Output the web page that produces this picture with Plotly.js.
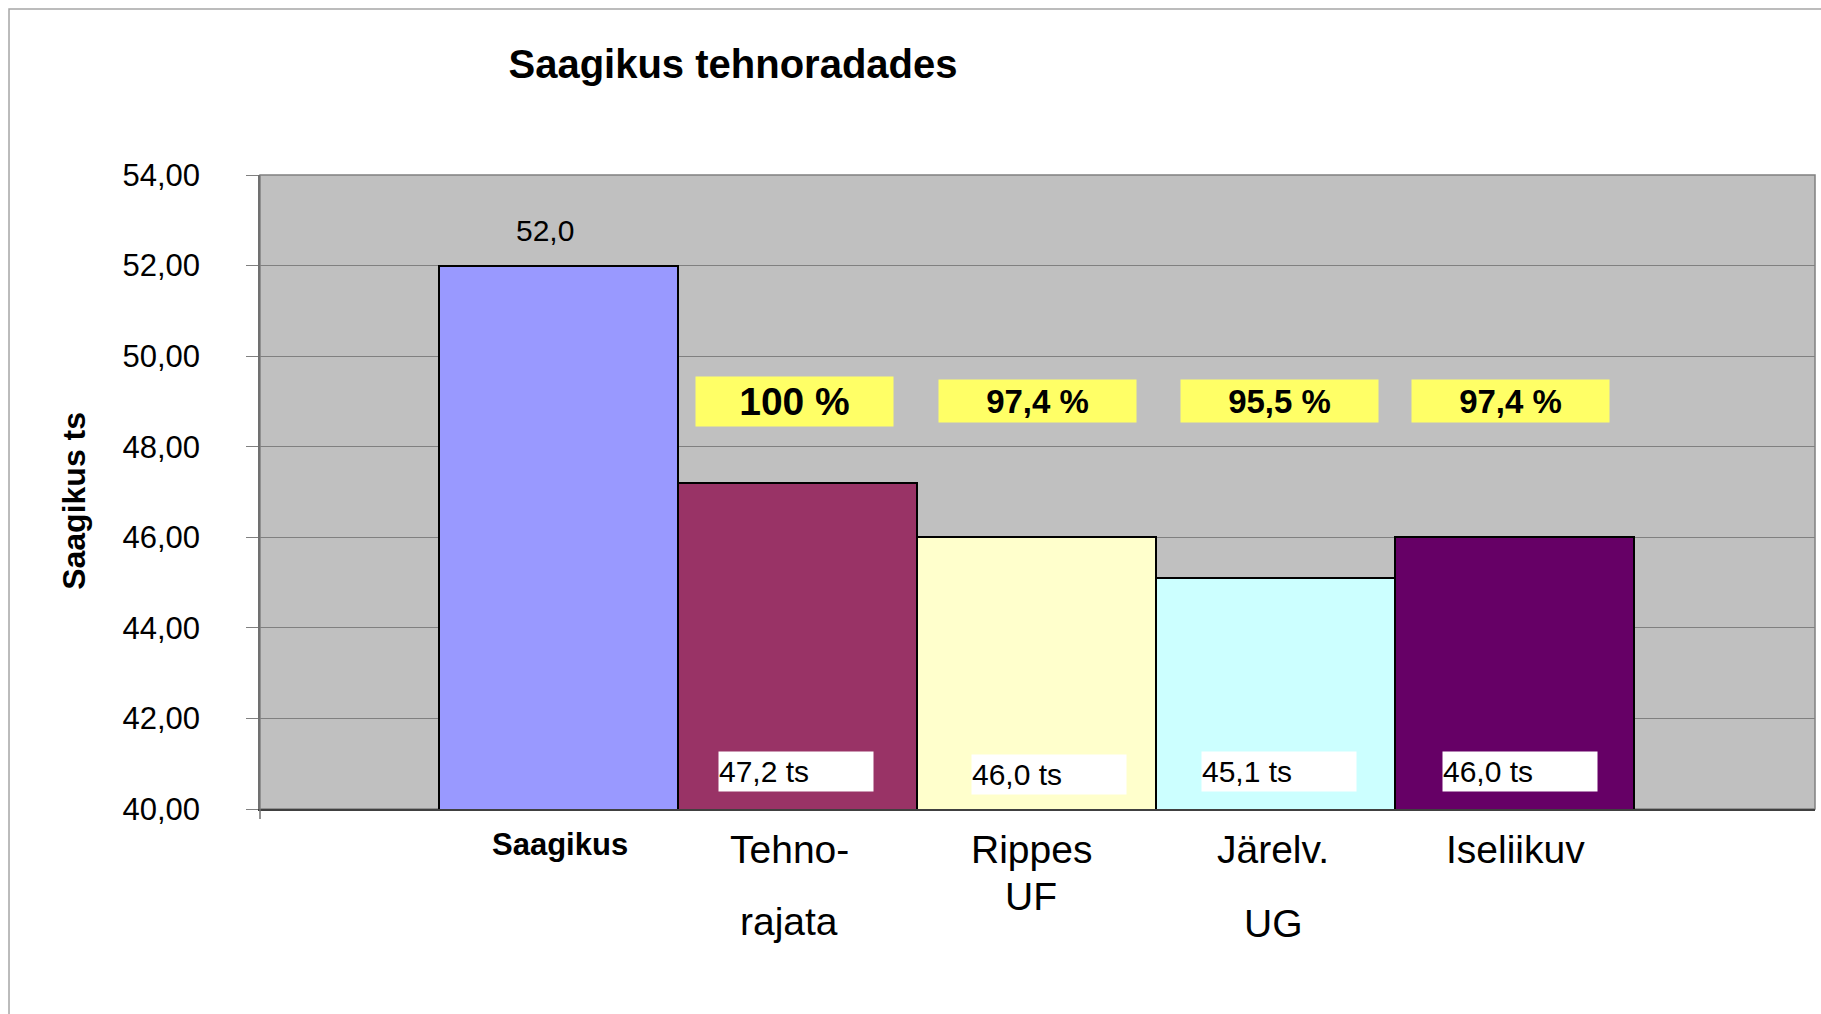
<!DOCTYPE html>
<html><head><meta charset="utf-8">
<script src="https://cdn.plot.ly/plotly-3.0.1.min.js"></script>
<style>html,body{margin:0;padding:0;background:#fff;}</style>
</head><body>
<div id="chart" style="width:1821px;height:1014px;"></div>
<script>
// ---- data ----
const chartTitle = "Saagikus tehnoradades";
const yAxisTitle = "Saagikus ts";
const categories = ["Saagikus", "Tehno-<br>rajata", "Rippes<br>UF", "Järelv.<br>UG", "Iseliikuv"];
const yieldValues = [52.0, 47.2, 46.0, 45.1, 46.0];
const percentValues = [null, 100, 97.4, 95.5, 97.4];
const barColors = ["#9999FF", "#993366", "#FFFFCC", "#CCFFFF", "#660066"];
const yTickValues = [40, 42, 44, 46, 48, 50, 52, 54];

// ---- styles (positions in px) ----
const FONT = "Liberation Sans, Arial, sans-serif";
const labelBold = [true, false, false, false, false];
const labelSize = [31, 39, 39, 39, 39];
const labelLine1Shift = [-35, -40.5, -40.5, -40.5, -40.5];
const labelLineGap = [0, 72, 46.5, 73.5, 0];
const labelDx = [2, -8, -5, -2, 1];
const pctDx = [0, -2.7, 1.1, 3.8, -4.2];
const valDx = [0, -1.2, 12.8, 4.2, 5.8];
const valDy = [0, 0, -3, 0, 0];

const fmt1 = v => v.toFixed(1).replace('.', ',');
const fmtPct = p => (Number.isInteger(p) ? String(p) : fmt1(p)) + ' %';

const trace = {
  type: 'bar',
  x: categories,
  y: yieldValues,
  marker: {color: barColors, line: {color: '#000000', width: 2}},
  hoverinfo: 'x+y',
  showlegend: false
};

const annotations = [];
// value above first bar
annotations.push({
  x: 0, y: yieldValues[0], xref: 'x', yref: 'y',
  text: fmt1(yieldValues[0]), showarrow: false,
  xanchor: 'center', yanchor: 'middle', xshift: -13, yshift: 35,
  font: {family: FONT, size: 30, color: '#000'}
});
categories.forEach((c, i) => {
  if (percentValues[i] != null) {
    const big = percentValues[i] === 100;
    annotations.push({
      x: i, y: 49.0, xref: 'x', yref: 'y', showarrow: false,
      text: '<b>' + fmtPct(percentValues[i]) + '</b>',
      width: 197, height: big ? 49 : 42, borderpad: 0,
      bgcolor: '#FFFF66', xanchor: 'center', yanchor: 'middle', xshift: pctDx[i],
      font: {family: FONT, size: big ? 39 : 33, color: '#000'}
    });
    annotations.push({
      x: i, y: 40.835, xref: 'x', yref: 'y', showarrow: false,
      text: fmt1(yieldValues[i]) + ' ts',
      width: 154, height: 39, borderpad: 0, align: 'left',
      bgcolor: '#FFFFFF', xanchor: 'center', yanchor: 'middle',
      xshift: valDx[i], yshift: valDy[i],
      font: {family: FONT, size: 30, color: '#000'}
    });
  }
  // category labels
  const lines = c.split('<br>');
  lines.forEach((ln, k) => {
    annotations.push({
      x: i, y: 0, xref: 'x', yref: 'paper', showarrow: false,
      text: labelBold[i] ? '<b>' + ln + '</b>' : ln,
      xanchor: 'center', yanchor: 'middle', xshift: labelDx[i],
      yshift: labelLine1Shift[i] - k * labelLineGap[i],
      font: {family: FONT, size: labelSize[i], color: '#000'}
    });
  });
});

const layout = {
  width: 1821, height: 1014,
  margin: {l: 260, r: 6, t: 175, b: 205, pad: 0},
  paper_bgcolor: '#FFFFFF',
  plot_bgcolor: '#C0C0C0',
  bargap: 0,
  font: {family: FONT, color: '#000'},
  title: {
    text: '<b>' + chartTitle + '</b>',
    font: {family: FONT, size: 40, color: '#000'},
    x: 733 / 1821, xref: 'container', xanchor: 'center',
    y: 1 - 64 / 1014, yref: 'container', yanchor: 'middle'
  },
  xaxis: {
    type: 'category',
    range: [-1.2477, 5.2586],
    showticklabels: false, ticks: '', showgrid: false, zeroline: false,
    showline: true, linecolor: '#404040', linewidth: 2,
    fixedrange: true
  },
  yaxis: {
    range: [40, 54],
    tickvals: yTickValues,
    tickformat: '.2f',
    ticks: 'outside', ticklen: 12, tickwidth: 1, tickcolor: '#808080',
    ticklabelstandoff: 40,
    tickfont: {family: FONT, size: 31, color: '#000'},
    showgrid: true, gridcolor: '#808080', gridwidth: 1,
    zeroline: false,
    showline: true, linecolor: '#707070', linewidth: 1.5,
    title: {text: '<b>' + yAxisTitle + '\u00A0\u00A0</b>', font: {family: FONT, size: 32, color: '#000'}, standoff: 27},
    fixedrange: true
  },
  separators: ',.',
  shapes: [
    {type: 'rect', xref: 'paper', yref: 'paper', x0: -0.16141, x1: 1.3, y0: -1, y1: 1.2618,
     line: {color: '#A6A6A6', width: 1.5}, fillcolor: 'rgba(0,0,0,0)', layer: 'below'},
    {type: 'rect', xref: 'paper', yref: 'paper', x0: 0, x1: 1, y0: 0, y1: 1,
     line: {color: '#808080', width: 1.5}, fillcolor: 'rgba(0,0,0,0)', layer: 'below'},
    {type: 'line', xref: 'paper', yref: 'paper', x0: 0, x1: 0, y0: 0, y1: -10 / 634,
     line: {color: '#707070', width: 1.5}}
  ],
  annotations: annotations
};

Plotly.newPlot('chart', [trace], layout, {displayModeBar: false, responsive: false, staticPlot: false});
</script>
</body></html>
